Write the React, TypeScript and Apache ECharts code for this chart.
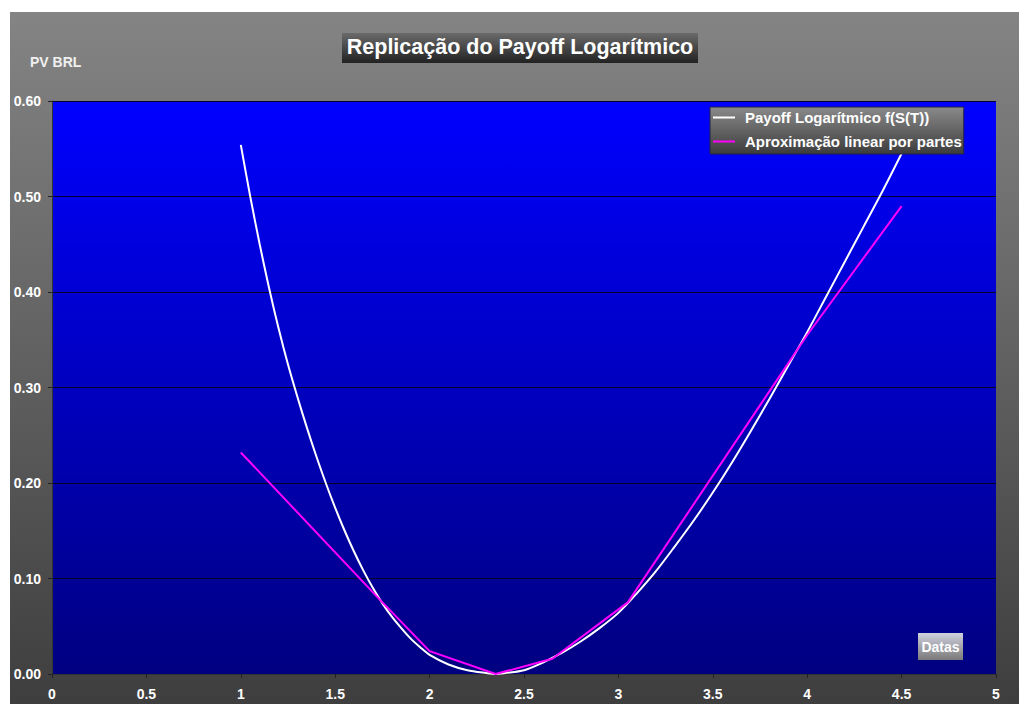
import React, { useEffect, useRef } from "react";
import * as echarts from "echarts";

const titleText = "Replicação do Payoff Logarítmico";
const yAxisTitle = "PV BRL";
const xAxisTitle = "Datas";
const seriesNames = ["Payoff Logarítmico f(S(T))", "Aproximação linear por partes"];

const payoffS = [1.0, 1.05, 1.1, 1.15, 1.2, 1.25, 1.3, 1.35, 1.4, 1.45, 1.5, 1.55, 1.6, 1.65, 1.7, 1.75, 1.8, 1.85, 1.9, 1.95, 2.0, 2.1, 2.2, 2.3, 2.35, 2.4, 2.5, 2.6, 2.7, 2.8, 2.9, 3.0, 3.1, 3.2, 3.3, 3.4, 3.5, 3.6, 3.7, 3.8, 3.9, 4.0, 4.1, 4.2, 4.3, 4.4, 4.5];
const payoffV = [0.554, 0.5, 0.45, 0.404, 0.362, 0.324, 0.29, 0.258, 0.228, 0.2, 0.174, 0.15, 0.128, 0.108, 0.09, 0.074, 0.06, 0.048, 0.037, 0.028, 0.02, 0.01, 0.004, 0.001, 0.0, 0.001, 0.004, 0.012, 0.022, 0.034, 0.048, 0.064, 0.085, 0.108, 0.134, 0.161, 0.19, 0.221, 0.254, 0.288, 0.323, 0.358, 0.395, 0.432, 0.469, 0.506, 0.545];

const approxS = [1.0, 1.75, 2.0, 2.35, 2.65, 3.05, 4.0, 4.5];
const approxV = [0.232, 0.075, 0.024, 0.0, 0.016, 0.075, 0.355, 0.49];

const xTicks = { min: 0, max: 5, interval: 0.5 };
const yTicks = { min: 0, max: 0.6, interval: 0.1 };

const FONT = "'Liberation Sans', Arial, sans-serif";

export default function App() {
  const ref = useRef<HTMLDivElement>(null);
  useEffect(() => {
    if (!ref.current) return;
    const chart = echarts.init(ref.current, null, { renderer: "svg" });
    const LG = echarts.graphic.LinearGradient;
    chart.setOption({
      animation: false,
      backgroundColor: "#ffffff",
      graphic: [
        {
          type: "rect",
          z: -10,
          shape: { x: 10, y: 12, width: 1009, height: 692 },
          style: {
            fill: new LG(0, 0, 0, 1, [
              { offset: 0, color: "#848484" },
              { offset: 1, color: "#3e3e3e" },
            ]),
          },
          silent: true,
        },
        {
          type: "rect",
          shape: { x: 342, y: 33, width: 356, height: 30 },
          style: {
            fill: new LG(0, 0, 0, 1, [
              { offset: 0, color: "#6a6a6a" },
              { offset: 1, color: "#222222" },
            ]),
          },
        },
        {
          type: "text",
          x: 520,
          y: 47,
          style: {
            text: titleText,
            fill: "#ffffff",
            font: "bold 21.5px " + FONT,
            align: "center",
            verticalAlign: "middle",
          },
        },
        {
          type: "text",
          x: 30,
          y: 62,
          style: {
            text: yAxisTitle,
            fill: "#f0f0f0",
            font: "bold 14px " + FONT,
            align: "left",
            verticalAlign: "middle",
          },
        },
        {
          type: "rect",
          z: 10,
          shape: { x: 918, y: 633, width: 45, height: 27 },
          style: {
            fill: new LG(0, 0, 0, 1, [
              { offset: 0, color: "#d0d0e0" },
              { offset: 1, color: "#7a7a7a" },
            ]),
          },
        },
        {
          type: "text",
          z: 11,
          x: 940.5,
          y: 647,
          style: {
            text: xAxisTitle,
            fill: "#ffffff",
            font: "bold 14px " + FONT,
            align: "center",
            verticalAlign: "middle",
          },
        },
      ],
      grid: {
        left: 52,
        right: 23,
        top: 101,
        bottom: 30,
        show: true,
        borderWidth: 0,
        backgroundColor: new LG(0, 0, 0, 1, [
          { offset: 0, color: "#0000ff" },
          { offset: 1, color: "#000080" },
        ]),
      },
      legend: {
        orient: "vertical",
        left: 710,
        top: 107,
        padding: [3, 2, 5, 3],
        itemGap: 9,
        itemWidth: 22,
        itemHeight: 2,
        icon: "rect",
        backgroundColor: new LG(0, 0, 0, 1, [
          { offset: 0, color: "#8a8a8a" },
          { offset: 1, color: "#3c3c3c" },
        ]),
        borderColor: "#222244",
        borderWidth: 1,
        textStyle: {
          color: "#ffffff",
          fontWeight: "bold",
          fontSize: 15,
          fontFamily: FONT,
          padding: [0, 0, 0, 5],
        },
        data: seriesNames,
      },
      xAxis: {
        type: "value",
        min: xTicks.min,
        max: xTicks.max,
        interval: xTicks.interval,
        axisLine: { show: true, lineStyle: { color: "#333333", width: 1 } },
        axisTick: { show: true, length: 4, lineStyle: { color: "#222222" } },
        splitLine: { show: false },
        axisLabel: {
          color: "#ffffff",
          fontWeight: "bold",
          fontSize: 14,
          fontFamily: FONT,
          margin: 13,
        },
      },
      yAxis: {
        type: "value",
        min: yTicks.min,
        max: yTicks.max,
        interval: yTicks.interval,
        axisLine: { show: true, lineStyle: { color: "#333333", width: 1 } },
        axisTick: { show: true, length: 4, lineStyle: { color: "#222222" } },
        splitLine: { show: true, lineStyle: { color: "#00002a", width: 1 } },
        axisLabel: {
          color: "#ffffff",
          fontWeight: "bold",
          fontSize: 14,
          fontFamily: FONT,
          margin: 11,
          formatter: (v: number) => v.toFixed(2),
        },
      },
      series: [
        {
          name: seriesNames[0],
          type: "line",
          data: payoffS.map((s, i) => [s, payoffV[i]]),
          showSymbol: false,
          smooth: 0.3,
          lineStyle: { color: "#ffffff", width: 2 },
          itemStyle: { color: "#ffffff" },
          z: 3,
        },
        {
          name: seriesNames[1],
          type: "line",
          data: approxS.map((s, i) => [s, approxV[i]]),
          showSymbol: false,
          lineStyle: { color: "#ff00ff", width: 2 },
          itemStyle: { color: "#ff00ff" },
          z: 4,
        },
      ],
    });
    return () => chart.dispose();
  }, []);
  return (
    <div
      ref={ref}
      style={{ position: "absolute", left: 0, top: 0, width: 1019, height: 704 }}
    />
  );
}
